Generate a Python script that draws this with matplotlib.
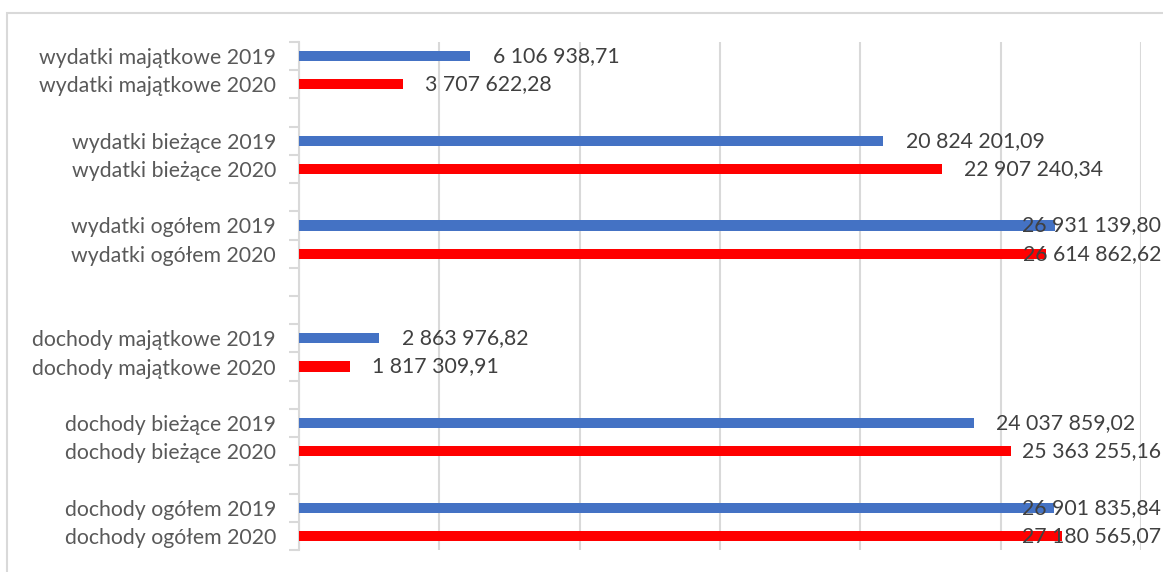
import matplotlib.pyplot as plt
from matplotlib.patches import Rectangle
from matplotlib import transforms

# Categories top to bottom ('' = empty row in the original chart)
labels = [
    'wydatki majątkowe 2019', 'wydatki majątkowe 2020', '',
    'wydatki bieżące 2019', 'wydatki bieżące 2020', '',
    'wydatki ogółem 2019', 'wydatki ogółem 2020', '', '',
    'dochody majątkowe 2019', 'dochody majątkowe 2020', '',
    'dochody bieżące 2019', 'dochody bieżące 2020', '',
    'dochody ogółem 2019', 'dochody ogółem 2020',
]
values = [
    6106938.71, 3707622.28, None,
    20824201.09, 22907240.34, None,
    26931139.80, 26614862.62, None, None,
    2863976.82, 1817309.91, None,
    24037859.02, 25363255.16, None,
    26901835.84, 27180565.07,
]
value_texts = [
    '6 106 938,71', '3 707 622,28', '',
    '20 824 201,09', '22 907 240,34', '',
    '26 931 139,80', '26 614 862,62', '', '',
    '2 863 976,82', '1 817 309,91', '',
    '24 037 859,02', '25 363 255,16', '',
    '26 901 835,84', '27 180 565,07',
]

blue = '#4472C4'
red = '#FF0000'
plt.rcParams['font.family'] = ['Lato', 'DejaVu Sans']
fs = 15.3

fig = plt.figure(figsize=(11.63, 5.72), dpi=100)
fig.patches.append(Rectangle((7 / 1163, -0.1), 1.2, 1 - 13 / 572 + 0.1,
                             transform=fig.transFigure, fill=False,
                             edgecolor='#d9d9d9', linewidth=1.5))
ax = fig.add_axes([299 / 1163, 1 - 550 / 572, (1141 - 299) / 1163, (550 - 42) / 572])
edge = transforms.blended_transform_factory(fig.transFigure, ax.transData)

n = len(labels)
ys = list(range(n))
for y, v, t in zip(ys, values, value_texts):
    if v is None:
        continue
    c = blue if '2019' in labels[y] else red
    ax.barh(y, v, height=0.36, color=c, zorder=3)
    if v > 25e6:
        # label pushed back inside the chart area, like Excel does
        ax.text(1161 / 1163, y, t, transform=edge, ha='right', va='center',
                fontsize=fs, color='#404040', zorder=4, clip_on=False)
    else:
        ax.annotate(t, xy=(v, y), xytext=(16, 0), textcoords='offset points',
                    ha='left', va='center', fontsize=fs, color='#404040', zorder=4)

ax.set_xlim(0, 30e6)
ax.set_ylim(n - 0.5, -0.5)
ax.set_xticks([i * 5e6 for i in range(7)])
ax.set_xticklabels([])
ax.tick_params(axis='x', length=0)
ax.grid(axis='x', color='#d9d9d9', linewidth=1.5, zorder=0)

ax.set_yticks(ys)
ax.set_yticklabels(labels, fontsize=fs, color='#595959')
ax.tick_params(axis='y', length=0, pad=16.5)
ax.set_yticks([i - 0.5 for i in range(n + 1)], minor=True)
ax.tick_params(axis='y', which='minor', length=7, width=1.5, color='#d9d9d9')

for s in ['top', 'right', 'bottom']:
    ax.spines[s].set_visible(False)
ax.spines['left'].set_color('#d9d9d9')
ax.spines['left'].set_linewidth(1.5)

fig.savefig('out.png', dpi=100)
